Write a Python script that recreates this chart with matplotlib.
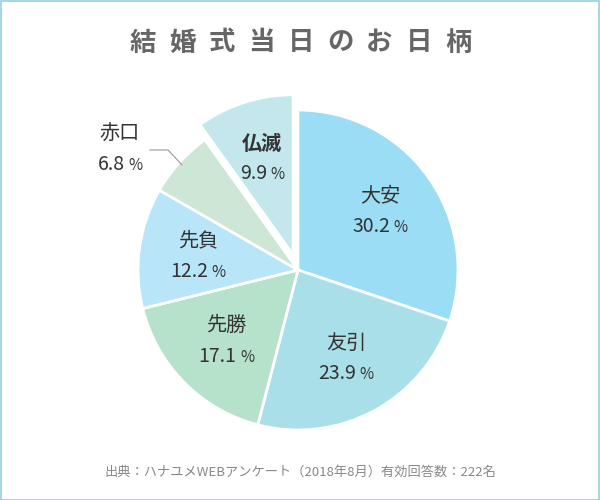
import matplotlib.pyplot as plt
from matplotlib.offsetbox import TextArea, HPacker, AnnotationBbox
from matplotlib.patches import Rectangle
import numpy as np

plt.rcParams['font.family'] = ['Noto Sans CJK JP', 'DejaVu Sans']

# data
labels = ['大安', '友引', '先勝', '先負', '赤口', '仏滅']
values = [30.2, 23.9, 17.1, 12.2, 6.8, 9.9]
colors = ['#9bddf5', '#a8dfe8', '#b6e2cc', '#b8e5f7', '#cde6d6', '#c3e7ec']
explode = [0, 0, 0, 0, 0, 0.1]
title = '結婚式当日のお日柄'
source = '出典：ハナユメWEBアンケート（2018年8月）有効回答数：222名'

fig = plt.figure(figsize=(6, 5), dpi=100)
ax = fig.add_axes([0, 0, 1, 1])

wedges, _ = ax.pie(values, colors=colors, startangle=90, counterclock=False,
                   explode=explode, radius=1.0,
                   wedgeprops=dict(edgecolor='white', linewidth=2))

# pixel -> data: center at (298, 270), 160px per unit
ax.set_xlim(-298 / 160, 302 / 160)
ax.set_ylim((270 - 500) / 160, 270 / 160)
ax.set_aspect('equal')
ax.axis('off')

text_col = '#333333'


def put_label(x, y, name, val, bold=False):
    ax.text(x, y + 0.095, name, ha='center', va='center', fontsize=14.5,
            color=text_col, fontweight='bold' if bold else 'normal')
    box = HPacker(children=[
        TextArea(f'{val}', textprops=dict(fontsize=14, color=text_col)),
        TextArea('%', textprops=dict(fontsize=11, color=text_col)),
    ], align='baseline', pad=0, sep=2.5)
    ab = AnnotationBbox(box, (x, y - 0.095), frameon=False, box_alignment=(0.5, 0.5))
    ax.add_artist(ab)


for w, name, val, ex in zip(wedges, labels, values, explode):
    mid = np.deg2rad((w.theta1 + w.theta2) / 2)
    if name == '赤口':
        # outside label with leader line
        ex_pt = (0.98 * np.cos(mid), 0.98 * np.sin(mid))
        ax.plot([ex_pt[0], (168 - 298) / 160, (150 - 298) / 160],
                [ex_pt[1], (270 - 150) / 160, (270 - 150) / 160],
                color='#999999', lw=0.8)
        put_label((120 - 298) / 160, (270 - 149) / 160, name, val)
        continue
    r = 0.63 + ex
    put_label(r * np.cos(mid), r * np.sin(mid), name, val, bold=(name == '仏滅'))

# title with letter spacing
x0, pitch = 143, 39.4
for i, ch in enumerate(title):
    fig.text((x0 + i * pitch) / 600, 1 - 43 / 500, ch, ha='center', va='center',
             fontsize=19, fontweight='bold', color='#666666')

fig.text(300 / 600, 1 - 472 / 500, source, ha='center', va='center',
         fontsize=9.5, color='#888888')

fig.patches.append(Rectangle((0.001, 0.001), 0.998, 0.998, transform=fig.transFigure,
                             fill=False, edgecolor='#8fd3e0', linewidth=1.2))

fig.savefig('out.png', dpi=100)
